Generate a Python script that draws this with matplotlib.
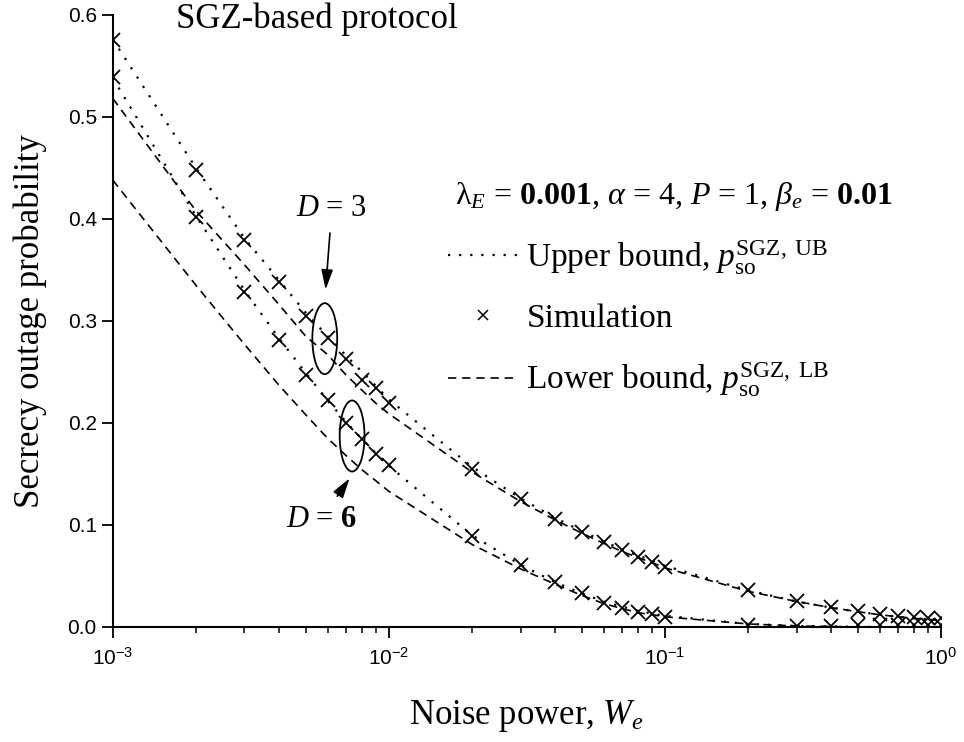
import matplotlib
matplotlib.use('Agg')
import matplotlib.pyplot as plt
from matplotlib import font_manager
from matplotlib.lines import Line2D
from matplotlib.patches import Ellipse
from matplotlib.ticker import LogLocator, FuncFormatter, NullFormatter
import numpy as np

# noise power W_e (x axis)
noise = [0.001, 0.002, 0.003, 0.004, 0.005, 0.006, 0.007, 0.008, 0.009,
         0.01, 0.02, 0.03, 0.04, 0.05, 0.06, 0.07, 0.08, 0.09,
         0.1, 0.2, 0.3, 0.4, 0.5, 0.6, 0.7, 0.8, 0.9, 1.0]

# D = 3
ub_d3 = [0.576, 0.450, 0.381, 0.340, 0.308, 0.285, 0.266, 0.250, 0.236,
         0.223, 0.157, 0.126, 0.107, 0.094, 0.084, 0.076, 0.070, 0.065,
         0.060, 0.036, 0.025, 0.019, 0.015, 0.012, 0.010, 0.0085, 0.0075, 0.0065]
sim_d3 = [0.575, 0.448, 0.379, 0.338, 0.305, 0.283, 0.263, 0.242, 0.234,
          0.220, 0.155, 0.125, 0.106, 0.093, 0.083, 0.075, 0.069, 0.064,
          0.059, 0.036, 0.025, 0.0195, 0.016, 0.013, 0.011, 0.0095, 0.009, 0.0085]
lb_d3 = [0.518, 0.408, 0.355, 0.316, 0.285, 0.267, 0.247, 0.232, 0.219,
         0.209, 0.152, 0.123, 0.105, 0.092, 0.082, 0.074, 0.068, 0.063,
         0.058, 0.035, 0.025, 0.019, 0.015, 0.012, 0.010, 0.0085, 0.0075, 0.0065]

# D = 6
ub_d6 = [0.538, 0.403, 0.330, 0.283, 0.249, 0.222, 0.201, 0.184, 0.170,
         0.158, 0.090, 0.061, 0.044, 0.033, 0.025, 0.020, 0.016, 0.013,
         0.011, 0.003, 0.001, 0.0005, 0.0002, 0.0, 0.0, 0.0, 0.0, 0.0]
sim_d6 = [0.539, 0.402, 0.328, 0.281, 0.247, 0.222, 0.200, 0.184, 0.170,
          0.159, 0.089, 0.061, 0.044, 0.033, 0.024, 0.019, 0.015, 0.013,
          0.010, 0.002, 0.001, 0.001, 0.002, 0.002, 0.002, 0.002, 0.002, 0.002]
lb_d6 = [0.438, 0.335, 0.277, 0.237, 0.208, 0.185, 0.168, 0.154, 0.143,
         0.133, 0.081, 0.057, 0.042, 0.031, 0.023, 0.018, 0.014, 0.012,
         0.010, 0.003, 0.001, 0.0005, 0.0, 0.0, 0.0, 0.0, 0.0, 0.0]

y_ticks = [0.0, 0.1, 0.2, 0.3, 0.4, 0.5, 0.6]

names = {f.name for f in font_manager.fontManager.ttflist}
tick_font = 'Liberation Sans Narrow' if 'Liberation Sans Narrow' in names else 'Liberation Sans'

plt.rcParams['font.family'] = 'Liberation Serif'
plt.rcParams['mathtext.fontset'] = 'custom'
plt.rcParams['mathtext.rm'] = 'Liberation Serif'
plt.rcParams['mathtext.it'] = 'Liberation Serif:italic'
plt.rcParams['mathtext.bf'] = 'Liberation Serif:bold'
plt.rcParams['mathtext.sf'] = tick_font

fig = plt.figure(figsize=(9.64, 7.42), dpi=100)
ax = fig.add_axes([0.117, 0.155, 0.859, 0.825])

dotted = (0, (1, 4))
dashed = (0, (5, 3.5))

ax.plot(noise, ub_d3, color='black', lw=1.6, ls=dotted)
ax.plot(noise, sim_d3, color='black', ls='none', marker='x', ms=10, mew=1.3)
ax.plot(noise, lb_d3, color='black', lw=1.2, ls=dashed)
ax.plot(noise, ub_d6, color='black', lw=1.6, ls=dotted)
ax.plot(noise, sim_d6, color='black', ls='none', marker='x', ms=10, mew=1.3)
ax.plot(noise, lb_d6, color='black', lw=1.2, ls=dashed)

ax.set_xscale('log')
ax.set_xlim(1e-3, 1)
ax.set_ylim(0, 0.6)
ax.set_yticks(y_ticks)
ax.yaxis.set_major_formatter(FuncFormatter(lambda v, p: f'{v:.1f}'))
ax.xaxis.set_major_locator(LogLocator(base=10))
ax.xaxis.set_minor_locator(LogLocator(base=10, subs=np.arange(2, 10)))
ax.xaxis.set_minor_formatter(NullFormatter())
ax.xaxis.set_major_formatter(FuncFormatter(
    lambda v, p: r'$\mathsf{10^{%d}}$' % int(round(np.log10(v)))))

for s in ['top', 'right']:
    ax.spines[s].set_visible(False)
for s in ['left', 'bottom']:
    ax.spines[s].set_linewidth(1.5)
ax.tick_params(which='major', direction='out', length=8, width=1.3,
               labelsize=15, labelfontfamily=tick_font)
ax.tick_params(which='minor', direction='out', length=4.5, width=1.1)
ax.tick_params(axis='x', which='major', pad=6)

ax.set_xlabel(r'Noise power, $W_e$', fontsize=25, labelpad=21)
ax.set_ylabel('Secrecy outage probability', fontsize=25, labelpad=15)

ax.text(0.076, 0.9935, 'SGZ-based protocol', transform=ax.transAxes,
        fontsize=25, va='center', ha='left', clip_on=False)
ax.text(0.413, 0.703,
        r'$\mathrm{\lambda}_E$ = $\mathbf{0.001}$, $\alpha$ = 4, $P$ = 1, $\beta_e$ = $\mathbf{0.01}$',
        transform=ax.transAxes, fontsize=23, va='center', ha='left')

# ellipses and arrows marking the two D groups
ax.add_patch(Ellipse((0.256, 0.471), 0.030, 0.116, transform=ax.transAxes,
                     fill=False, lw=1.3, color='black'))
ax.add_patch(Ellipse((0.289, 0.312), 0.030, 0.116, transform=ax.transAxes,
                     fill=False, lw=1.3, color='black'))
arrow = dict(arrowstyle='-|>,head_length=0.55,head_width=0.16',
             color='black', lw=1.2, shrinkA=5, shrinkB=0)
ax.annotate(r'$D$ = 3', xy=(0.257, 0.551), xytext=(0.2645, 0.683),
            xycoords='axes fraction', textcoords='axes fraction',
            fontsize=22, ha='center', va='center', arrowprops=arrow)
ax.annotate(r'$D$ = $\mathbf{6}$', xy=(0.286, 0.243), xytext=(0.252, 0.176),
            xycoords='axes fraction', textcoords='axes fraction',
            fontsize=22, ha='center', va='center', arrowprops=arrow)

handles = [Line2D([], [], color='black', lw=1.6, ls=dotted),
           Line2D([], [], color='black', ls='none', marker='x', ms=7, mew=1.1),
           Line2D([], [], color='black', lw=1.2, ls=dashed)]
labels = [r'Upper bound, $p_{\mathrm{so}}^{\mathrm{SGZ,\ UB}}$',
          'Simulation',
          r'Lower bound, $p_{\mathrm{so}}^{\mathrm{SGZ,\ LB}}$']
ax.legend(handles, labels, loc='upper left', bbox_to_anchor=(0.405, 0.635),
          frameon=False, fontsize=24, handlelength=2.1, handletextpad=0.25,
          labelspacing=0.8, borderpad=0, borderaxespad=0)

fig.savefig('out.png', dpi=100)
